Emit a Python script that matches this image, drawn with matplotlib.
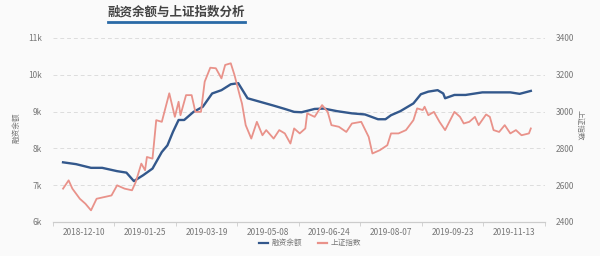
import matplotlib
matplotlib.use("Agg")
import numpy as np
import matplotlib.pyplot as plt
from matplotlib.lines import Line2D

plt.rcParams['font.family'] = ['Noto Sans CJK SC', 'DejaVu Sans']

# trading-day index -> value
margin_days = [0, 7, 15, 21, 29, 34, 38, 43, 48, 53, 56, 59, 62, 65, 70, 75, 80, 85, 90, 94,
               99, 106, 113, 119, 124, 128, 135, 140, 147, 155, 162, 169, 173, 176, 181, 185,
               188, 192, 196, 201, 204, 205, 210, 216, 225, 234, 240, 245, 251]
margin_vals = [7.62, 7.57, 7.47, 7.47, 7.38, 7.34, 7.11, 7.27, 7.45, 7.90, 8.08, 8.45, 8.77,
               8.77, 8.99, 9.13, 9.49, 9.58, 9.74, 9.77, 9.36, 9.26, 9.16, 9.07, 8.99, 8.98,
               9.07, 9.08, 9.01, 8.95, 8.92, 8.79, 8.79, 8.90, 9.01, 9.13, 9.22, 9.47, 9.54,
               9.58, 9.49, 9.36, 9.45, 9.45, 9.52, 9.52, 9.52, 9.48, 9.56]

sse_days = [0, 3, 5, 9, 12, 15, 18, 22, 26, 29, 33, 37, 39, 42, 44, 45, 48, 50, 53, 57, 60,
            62, 63, 66, 69, 71, 74, 76, 79, 82, 85, 87, 90, 92, 95, 96, 98, 101, 104, 107,
            109, 113, 116, 119, 122, 124, 127, 130, 131, 135, 139, 142, 144, 148, 152, 155,
            160, 164, 166, 170, 174, 176, 180, 184, 188, 190, 193, 194, 196, 199, 202, 205,
            210, 213, 215, 218, 221, 223, 227, 229, 231, 234, 237, 240, 243, 246, 250, 251]
sse_vals = [2581, 2626, 2581, 2526, 2499, 2463, 2526, 2535, 2544, 2599, 2581, 2572, 2617,
            2717, 2681, 2753, 2744, 2953, 2944, 3099, 2971, 3053, 2980, 3089, 3089, 2998,
            2998, 3162, 3238, 3235, 3180, 3253, 3262, 3198, 3080, 3044, 2926, 2853, 2944,
            2871, 2899, 2853, 2899, 2881, 2826, 2908, 2881, 2908, 2990, 2971, 3035, 2998,
            2926, 2917, 2889, 2935, 2944, 2862, 2772, 2790, 2817, 2881, 2881, 2899, 2953,
            3017, 3008, 3026, 2980, 2998, 2944, 2899, 2998, 2971, 2935, 2944, 2971, 2926,
            2984, 2971, 2899, 2889, 2926, 2881, 2899, 2871, 2881, 2908]

date_labels = ['2018-12-10', '2019-01-25', '2019-03-19', '2019-05-08',
               '2019-06-24', '2019-08-07', '2019-09-23', '2019-11-13']
label_days = [11, 44, 77, 110, 143, 176, 209, 242]

left_ticks = [6, 7, 8, 9, 10, 11]
left_labels = ['6k', '7k', '8k', '9k', '10k', '11k']
right_ticks = [2400, 2600, 2800, 3000, 3200, 3400]

blue = '#33588c'
red = '#e9928a'
grey = '#777777'
bg = '#fafafa'

fig = plt.figure(figsize=(6, 2.56), dpi=100, facecolor=bg)
ax = fig.add_axes([0.088, 0.133, 0.82, 0.719], facecolor=bg)
ax2 = ax.twinx()

ax.plot(margin_days, margin_vals, color=blue, lw=1.7, zorder=3)
ax2.plot(sse_days, sse_vals, color=red, lw=1.3, zorder=2)

ax.set_xlim(0, 251)
ax.set_ylim(6, 11)
ax2.set_ylim(2400, 3400)
ax.set_yticks(left_ticks)
ax.set_yticklabels(left_labels)
ax2.set_yticks(right_ticks)
ax.set_xticks(label_days)
ax.set_xticklabels(date_labels)
ax.set_xticks([d - 16.5 for d in label_days] + [label_days[-1] + 16.5], minor=True)

ax.grid(axis='y', color='#dddddd', ls=(0, (4, 3)), lw=0.7)
for a in (ax, ax2):
    for s in ('left', 'right', 'top'):
        a.spines[s].set_visible(False)
    a.spines['bottom'].set_color('#cccccc')
ax.tick_params(axis='x', which='major', length=0, labelsize=6, colors=grey, pad=4)
ax.tick_params(axis='x', which='minor', length=3, color='#cccccc')
ax.tick_params(axis='y', length=0, labelsize=6, colors=grey, pad=8)
ax2.tick_params(axis='y', length=0, labelsize=6, colors=grey, pad=8)

fig.text(0.028, 0.50, '融资余额', rotation=90, fontsize=5.5, color=grey, ha='center', va='center')
fig.text(0.966, 0.51, '上证指数', rotation=270, fontsize=5.5, color=grey, ha='center', va='center')

fig.text(0.293, 0.953, '融资余额与上证指数分析', fontsize=9, fontweight='bold',
         color='#444444', ha='center', va='center')
fig.add_artist(Line2D([0.18, 0.408], [0.914, 0.914], color='#2a6aa6', lw=2))

handles = [Line2D([], [], color=blue, lw=1.6), Line2D([], [], color=red, lw=1.6)]
fig.legend(handles, ['融资余额', '上证指数'], loc='center', bbox_to_anchor=(0.517, 0.05),
           ncol=2, frameon=False, fontsize=5.5, handlelength=1.2, handletextpad=0.5,
           columnspacing=2.0, labelcolor=grey)

fig.savefig('out.png', dpi=100, facecolor=bg)
